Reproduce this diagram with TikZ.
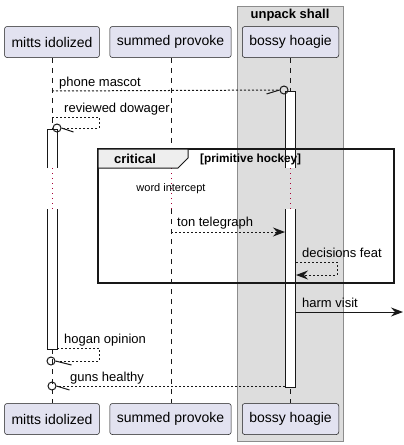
\documentclass[tikz,border=0pt]{standalone}
\usepackage{fontspec}
\setmainfont{Liberation Sans}
\usetikzlibrary{arrows.meta}
\usetikzlibrary{calc}

\definecolor{partfill}{HTML}{E2E2F0}
\definecolor{partline}{HTML}{181818}
\definecolor{boxfill}{HTML}{DDDDDD}
\definecolor{boxline}{HTML}{8C8C8C}
\definecolor{tabfill}{HTML}{EEEEEE}
\definecolor{delaycol}{HTML}{A80036}

\begin{document}
\begin{tikzpicture}[x=1pt,y=-1pt,
                participant/.style={draw=partline,line width=0.5pt,fill=partfill,rounded corners=2.5pt,
                    minimum height=31pt,inner xsep=7pt,inner ysep=0pt,font=\fontsize{14}{16}\selectfont},
                lifeline/.style={draw=partline,line width=0.5pt,dash pattern=on 5pt off 5pt},
                delayline/.style={draw=delaycol,line width=1pt,dash pattern=on 1pt off 4pt},
                barline/.style={draw=partline,line width=1pt},
                msg/.style={draw=partline,line width=1pt,dash pattern=on 2pt off 2pt},
                msgsolid/.style={draw=partline,line width=1pt},
                head/.style={-{Stealth[length=12pt,width=9pt,inset=4pt]}},
                lostend/.style={circle,draw=partline,line width=1pt,minimum size=8pt,inner sep=0pt},
                msglabel/.style={anchor=base west,inner sep=0pt,font=\fontsize{13}{15}\selectfont},
                boldlabel/.style={inner sep=0pt,font=\fontsize{13}{15}\selectfont\bfseries}]

                \useasboundingbox (0,0) rectangle (404,445);

                \filldraw[fill=boxfill,draw=boxline,line width=0.8pt] (237,6) rectangle (343,441);
                \node[boldlabel] (boxTitle) at (290,15) {unpack shall};

                \node[participant] (mittsTop) at (52,42) {mitts idolized};
                \node[participant] (summedTop) at (170.5,42) {summed provoke};
                \node[participant] (bossyTop) at (290.5,42) {bossy hoagie};

                \node[participant] (mittsBot) at (52,419) {mitts idolized};
                \node[participant] (summedBot) at (170.5,419) {summed provoke};
                \node[participant] (bossyBot) at (290.5,419) {bossy hoagie};

                \coordinate (mittsDelayA) at (52,168);
                \coordinate (mittsDelayB) at (52,209);
                \coordinate (summedDelayA) at (171,168);
                \coordinate (summedDelayB) at (171,209);
                \coordinate (bossyDelayA) at (290,168);
                \coordinate (bossyDelayB) at (290,209);

                \draw[lifeline] (mittsTop.south) -- (mittsDelayA);
                \draw[lifeline] (mittsDelayB) -- (mittsBot.north);
                \draw[lifeline] (summedTop.south -| summedDelayA) -- (summedDelayA);
                \draw[lifeline] (summedDelayB) -- (summedBot.north -| summedDelayB);
                \draw[lifeline] (bossyTop.south -| bossyDelayA) -- (bossyDelayA);
                \draw[lifeline] (bossyDelayB) -- (bossyBot.north -| bossyDelayB);

                \draw[delayline] (mittsDelayA) -- (mittsDelayB);
                \draw[delayline] (summedDelayA) -- (summedDelayB);
                \draw[delayline] (bossyDelayA) -- (bossyDelayB);

                \fill[white] (47,129) rectangle (57,168);
                \fill[white] (47,209) rectangle (57,349);
                \draw[barline] (47,168) -- (47,129) -- (57,129) -- (57,168);
                \draw[barline] (47,209) -- (47,349) -- (57,349) -- (57,209);

                \fill[white] (285,91) rectangle (295,168);
                \fill[white] (285,209) rectangle (295,387);
                \draw[barline] (285,168) -- (285,91) -- (295,91) -- (295,168);
                \draw[barline] (285,209) -- (285,387) -- (295,387) -- (295,209);

                \coordinate (phoneStart) at (52,91);
                \node[lostend] (phoneEnd) at (284,90) {};
                \draw[msg] (phoneStart) -- (phoneEnd);
                \draw[msgsolid] (phoneEnd.west) -- ++(-13,4);
                \node[msglabel] (phoneLabel) at (59,86) {phone mascot};

                \coordinate (reviewStart) at (52,117);
                \coordinate (reviewA) at (99,117);
                \coordinate (reviewB) at (99,128);
                \node[lostend] (reviewEnd) at (57,128) {};
                \draw[msg] (reviewStart) -- (reviewA) -- (reviewB) -- (reviewEnd);
                \draw[msgsolid] (reviewEnd.east) -- ++(12,4);
                \node[msglabel] (reviewLabel) at (64,112) {reviewed dowager};

                \draw[line width=1.5pt,draw=partline] (98,149) rectangle (394,283);
                \filldraw[fill=tabfill,draw=partline,line width=1pt] (98,149) -- (188,149) -- (188,158) -- (178,168) -- (98,168) -- cycle;
                \node[boldlabel] (critLabel) at (135,159) {critical};
                \node[boldlabel,anchor=west,font=\fontsize{11.8}{13}\selectfont\bfseries] (guardLabel) at (200,159) {[primitive hockey]};
                \node[inner sep=0pt,font=\fontsize{11}{13}\selectfont] (delayLabel) at (171,189) {word intercept};

                \coordinate (tonStart) at (171,232);
                \coordinate (tonEnd) at (285,232);
                \draw[msg,head] (tonStart) -- (tonEnd);
                \node[msglabel] (tonLabel) at (177,226) {ton telegraph};

                \coordinate (featStart) at (296,262);
                \coordinate (featA) at (337,262);
                \coordinate (featB) at (337,275);
                \coordinate (featEnd) at (296,275);
                \draw[msg,head] (featStart) -- (featA) -- (featB) -- (featEnd);
                \node[msglabel] (featLabel) at (302,257) {decisions feat};

                \coordinate (harmStart) at (296,312);
                \coordinate (harmEnd) at (403,312);
                \draw[msgsolid,head] (harmStart) -- (harmEnd);
                \node[msglabel] (harmLabel) at (302,307) {harm visit};

                \coordinate (hoganStart) at (57,348);
                \coordinate (hoganA) at (99,348);
                \coordinate (hoganB) at (99,361);
                \node[lostend] (hoganEnd) at (51,361) {};
                \draw[msg] (hoganStart) -- (hoganA) -- (hoganB) -- (hoganEnd);
                \draw[msgsolid] (hoganEnd.east) -- ++(16,4);
                \node[msglabel] (hoganLabel) at (64,343) {hogan opinion};

                \coordinate (gunsStart) at (285,386);
                \node[lostend] (gunsEnd) at (52,386) {};
                \draw[msg] (gunsStart) -- (gunsEnd);
                \draw[msgsolid] (gunsEnd.east) -- ++(13,4);
                \node[msglabel] (gunsLabel) at (70,381) {guns healthy};
            \end{tikzpicture}
\end{document}
